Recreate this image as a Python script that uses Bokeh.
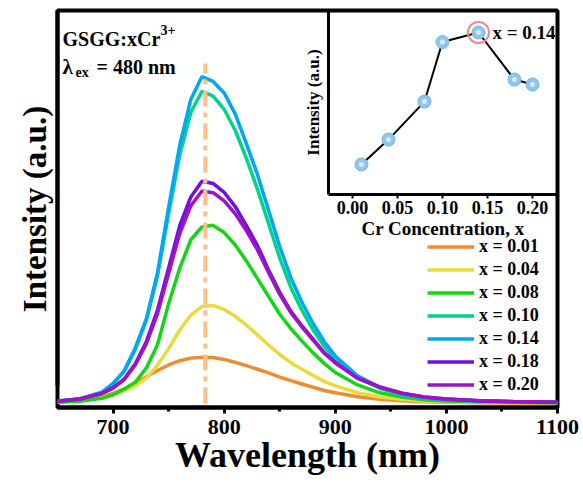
from bokeh.plotting import figure
from bokeh.models import (Range1d, LinearAxis, FixedTicker, Legend, LegendItem,
                          Label, NumeralTickFormatter)
from bokeh.embed import file_html
from bokeh.resources import INLINE

# ---------------- data ----------------
wavelength = [650, 670, 690, 700, 710, 720, 730, 740, 750, 760, 770, 780, 790, 800,
              810, 820, 830, 840, 850, 860, 870, 880, 890, 900, 920, 940, 960, 980,
              1000, 1030, 1060, 1100]

int_001 = [0.4, 1.0, 2.1, 3.1, 4.5, 6.4, 8.2, 10.1, 11.8, 13.1, 13.9, 14.2, 14.1, 13.5,
           12.6, 11.6, 10.5, 9.4, 8.1, 7.0, 6.0, 5.0, 4.0, 3.3, 2.1, 1.35, 0.85, 0.57,
           0.4, 0.26, 0.17, 0.11]
int_004 = [0.45, 0.9, 1.8, 2.7, 3.9, 5.4, 7.8, 11.7, 16.8, 22.5, 27.0, 29.7, 30.0, 28.8,
           26.7, 24.0, 21.0, 17.9, 15.0, 12.5, 10.5, 8.6, 6.8, 5.4, 3.3, 2.0, 1.3, 0.8,
           0.55, 0.36, 0.24, 0.15]
int_008 = [0.4, 0.7, 1.6, 2.7, 4.4, 6.5, 10.9, 18.0, 30.5, 41.4, 50.1, 54.0, 54.5, 52.3,
           48.5, 43.6, 38.2, 32.7, 27.3, 22.9, 19.1, 15.5, 12.3, 9.5, 5.7, 3.3, 2.0, 1.2,
           0.8, 0.55, 0.4, 0.3]
int_010 = [0.8, 1.4, 3.4, 6.0, 9.8, 16.5, 25.5, 39.0, 58.0, 76.0, 89.0, 95.5, 94.0, 90.0,
           83.5, 75.0, 65.5, 55.0, 44.5, 35.5, 28.5, 22.5, 17.5, 13.5, 8.0, 4.7, 2.7, 1.7,
           1.2, 0.8, 0.5, 0.3]
int_014 = [0.8, 1.4, 3.5, 6.2, 10.0, 17.0, 26.0, 40.0, 60.0, 79.0, 93.0, 100.0, 98.5, 95.0,
           88.5, 79.5, 70.0, 59.0, 48.0, 38.5, 31.0, 24.5, 19.0, 14.5, 8.5, 5.0, 2.8, 1.7,
           1.2, 0.8, 0.5, 0.3]
int_018 = [0.7, 1.4, 3.1, 4.8, 7.5, 12.2, 19.0, 28.6, 41.5, 54.4, 63.2, 68.0, 67.3, 64.6,
           60.2, 54.4, 48.3, 40.8, 34.0, 28.2, 23.8, 19.7, 15.6, 12.6, 7.8, 5.1, 3.2, 2.0,
           1.4, 0.9, 0.6, 0.4]
int_020 = [0.7, 1.4, 3.1, 4.7, 7.3, 11.8, 18.3, 27.5, 39.8, 52.0, 60.5, 65.0, 64.5, 62.0,
           58.0, 52.8, 47.0, 40.0, 33.4, 27.8, 23.4, 19.4, 15.4, 12.4, 7.7, 5.0, 3.2, 2.0,
           1.4, 0.9, 0.6, 0.4]

series = [int_001, int_004, int_008, int_010, int_014, int_018, int_020]
series_labels = ["x = 0.01", "x = 0.04", "x = 0.08", "x = 0.10", "x = 0.14", "x = 0.18", "x = 0.20"]
colors = ["#F28A30", "#E8DC3A", "#14D614", "#00D48C", "#00A8F4", "#7010DC", "#A012C8"]

x_ticks = [700, 800, 900, 1000, 1100]
x_minor_ticks = [750, 850, 950, 1050]
peak_nm = 783
dash_top = 104

# inset: peak intensity vs Cr concentration
conc = [0.01, 0.04, 0.08, 0.10, 0.14, 0.18, 0.20]
inset_intensity = [14.2, 30.4, 55.1, 93.8, 100.0, 69.4, 66.2]
inset_ticks = [0.00, 0.05, 0.10, 0.15, 0.20]

# ---------------- layout ----------------
W, H = 583, 484
FL, FR, FT, FB = 57, 557, 10, 407          # frame edges in px
FONT = "Liberation Serif"
Y0, Y1 = -1.2, 120.2

p = figure(width=W, height=H, output_backend="svg", toolbar_location=None,
           x_range=Range1d(650, 1100), y_range=Range1d(Y0, Y1),
           min_border_left=FL, min_border_right=W - FR,
           min_border_top=FT, min_border_bottom=H - FB,
           background_fill_color="white", border_fill_color="white")
p.grid.visible = False
p.outline_line_color = "black"
p.outline_line_width = 4
p.outline_line_alpha = 1

# inset placement (px) and ranges mapped onto the main frame
ix_lo, ix_hi = -0.0266, 0.2278
iy_lo, iy_hi = -5.3, 114.3
in_left, in_bottom = 328, 194
sx = (FR - in_left) / (ix_hi - ix_lo)
sy = (in_bottom - FT) / (iy_hi - iy_lo)
p.extra_x_ranges = {"ix": Range1d(ix_lo - (in_left - FL) / sx, ix_hi)}
p.extra_y_ranges = {"iy": Range1d(iy_lo - (FB - in_bottom) / sy, iy_hi)}

# main axes
xa = p.xaxis[0]
xa.ticker = FixedTicker(ticks=x_ticks, minor_ticks=x_minor_ticks)
xa.axis_label = "Wavelength (nm)"
xa.axis_line_width = 4
xa.major_tick_out = 6
xa.major_tick_in = 0
xa.major_tick_line_width = 3
xa.minor_tick_out = 4
xa.minor_tick_in = 0
xa.minor_tick_line_width = 3
xa.major_label_standoff = 6
xa.axis_label_standoff = -2
xa.major_label_text_font = FONT
xa.major_label_text_font_style = "bold"
xa.major_label_text_font_size = "22px"
xa.major_label_text_color = "black"
xa.axis_label_text_font = FONT
xa.axis_label_text_font_style = "bold"
xa.axis_label_text_font_size = "36px"
xa.axis_label_text_color = "black"

# y title sits a little above the frame centre, as in the original
y_px_per_unit = (FB - FT) / (Y1 - Y0)
ya = p.yaxis[0]
ya.ticker = FixedTicker(ticks=[])
ya.bounds = (Y0 + 22 / y_px_per_unit, Y1)
ya.axis_label = "Intensity (a.u.)"
ya.axis_line_width = 4
ya.axis_label_standoff = 5
ya.axis_label_text_font = FONT
ya.axis_label_text_font_style = "bold"
ya.axis_label_text_font_size = "33px"
ya.axis_label_text_color = "black"

# spectra
renderers = []
for vals, col in zip(series, colors):
    r = p.line(wavelength, vals, line_color=col, line_width=3.5)
    renderers.append(r)

# excitation peak guide line
p.line([peak_nm, peak_nm], [0, dash_top], line_color="#FFBF8A", line_width=4,
       line_dash="16 6 5 6")

legend = Legend(items=[LegendItem(label=l, renderers=[r]) for l, r in zip(series_labels, renderers)],
                location=(370, 12), orientation="vertical",
                glyph_width=47, glyph_height=19, label_height=19, label_standoff=5,
                spacing=2, padding=0, margin=0,
                border_line_alpha=0, background_fill_alpha=0,
                label_text_font=FONT, label_text_font_style="bold",
                label_text_font_size="18px", label_text_color="black")
p.add_layout(legend, "center")

# top-left annotation
def lab(text, x, y, size):
    p.add_layout(Label(x=x, y=y, x_units="screen", y_units="screen", text=text,
                       text_font=FONT, text_font_style="bold", text_font_size=size,
                       text_color="black", text_baseline="alphabetic"))

lab("GSGG:xCr", 62 - FL, FB - 38, "20px")
lab("3+", 160 - FL, FB - 29, "14px")
lab("\u03bb", 62 - FL, FB - 66, "21px")
lab("ex", 75 - FL, FB - 72, "14px")
lab("= 480 nm", 96 - FL, FB - 66, "20px")

# ---------------- inset ----------------
iax = LinearAxis(x_range_name="ix", y_range_name="iy", fixed_location=iy_lo,
                 bounds=(ix_lo, ix_hi))
iax.ticker = FixedTicker(ticks=inset_ticks, minor_ticks=[])
iax.formatter = NumeralTickFormatter(format="0.00")
iax.axis_label = "Cr Concentration, x"
iax.axis_line_width = 3
iax.major_tick_out = 4
iax.major_tick_in = 0
iax.major_tick_line_width = 2
iax.major_label_standoff = 2
iax.axis_label_standoff = 1
iax.major_label_text_font = FONT
iax.major_label_text_font_style = "bold"
iax.major_label_text_font_size = "18px"
iax.major_label_text_color = "black"
iax.axis_label_text_font = FONT
iax.axis_label_text_font_style = "bold"
iax.axis_label_text_font_size = "19px"
iax.axis_label_text_color = "black"
p.add_layout(iax, "below")

iay = LinearAxis(x_range_name="ix", y_range_name="iy", fixed_location=ix_lo,
                 bounds=(iy_lo, iy_hi))
iay.ticker = FixedTicker(ticks=[])
iay.axis_label = "Intensity (a.u.)"
iay.axis_line_width = 3
iay.axis_label_standoff = 6
iay.axis_label_text_font = FONT
iay.axis_label_text_font_style = "bold"
iay.axis_label_text_font_size = "17px"
iay.axis_label_text_color = "black"
p.add_layout(iay, "left")

p.line(conc, inset_intensity, x_range_name="ix", y_range_name="iy",
       line_color="black", line_width=2)
p.scatter(conc, inset_intensity, x_range_name="ix", y_range_name="iy", size=13,
          fill_color="#8FC6EE", line_color="#79B4E4", line_width=1)
p.scatter(conc, inset_intensity, x_range_name="ix", y_range_name="iy", size=5,
          fill_color="#D6ECFB", line_alpha=0)

imax = inset_intensity.index(max(inset_intensity))
p.scatter([conc[imax]], [inset_intensity[imax]], x_range_name="ix", y_range_name="iy",
          size=21, fill_alpha=0, line_color="#EE8A8A", line_width=2)
p.add_layout(Label(x=conc[imax], y=inset_intensity[imax], x_range_name="ix", y_range_name="iy",
                   x_offset=14, text=f"x = {conc[imax]:.2f}", text_font=FONT,
                   text_font_style="bold", text_font_size="19px", text_color="black",
                   text_baseline="middle"))

open("out.html", "w").write(file_html(p, INLINE))
